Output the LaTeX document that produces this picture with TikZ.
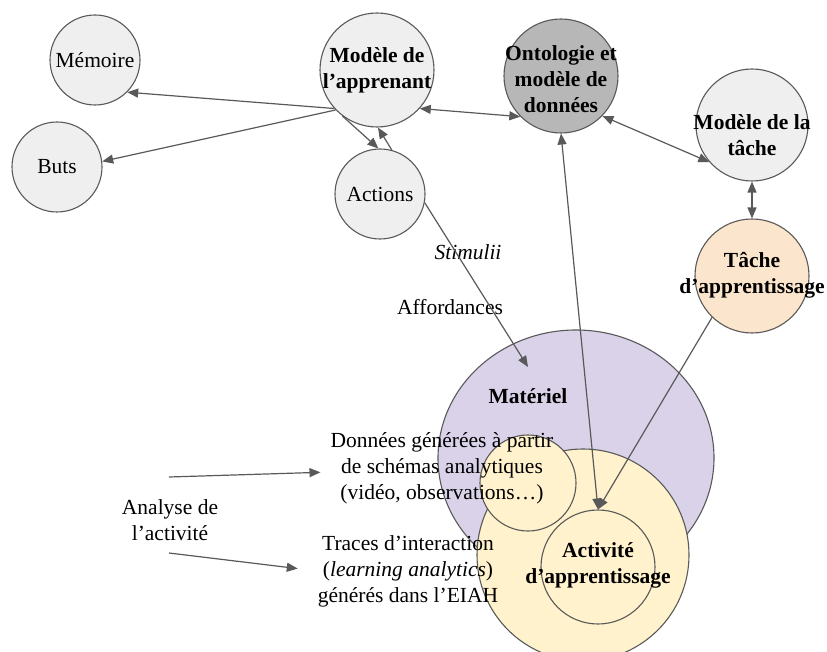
\documentclass[tikz,border=0pt]{standalone}
\usepackage{fontspec}
\setmainfont{Liberation Serif}
\usetikzlibrary{arrows.meta,shapes.geometric}
\definecolor{bord}{HTML}{595959}
\definecolor{gris}{HTML}{EFEFEF}
\definecolor{grisfonce}{HTML}{B7B7B7}
\definecolor{peche}{HTML}{FCE5CD}
\definecolor{lavande}{HTML}{D9D2E9}
\definecolor{jaune}{HTML}{FFF2CC}
\tikzset{
  bulle/.style={circle,draw=bord,line width=1.1pt,fill=gris,minimum size=#1,inner sep=0pt},
  txt/.style={align=center,inner sep=0pt,font=\fontsize{21.5}{26}\selectfont},
  gras/.style={txt,font=\fontsize{21.5}{26}\selectfont\bfseries},
  fleche/.style={draw=bord,line width=1.2pt,-{Triangle[length=11pt,width=9pt]}},
  dfleche/.style={draw=bord,line width=1.2pt,{Triangle[length=11pt,width=9pt]}-{Triangle[length=11pt,width=9pt]}}
}
\begin{document}
\begin{tikzpicture}[x=1pt,y=-1pt]
    \useasboundingbox (0,0) rectangle (827,652);
    \clip (0,0) rectangle (827,652);
    %% materiel et activite
    \node[ellipse,draw=bord,line width=1.1pt,fill=lavande,minimum width=276,minimum height=256,inner sep=0pt] (mat) at (576,458) {};
    \node[bulle=212,fill=jaune] (jau) at (583,555) {};
    \node[bulle=96,fill=jaune] (don) at (528,483) {};
    \node[bulle=114,fill=jaune] (actv) at (598,567) {};
    %% bulles du haut
    \node[bulle=90] (mem) at (95,60) {};
    \node[bulle=90] (buts) at (57,167) {};
    \node[bulle=114] (app) at (377,70) {};
    \node[bulle=90] (act) at (380,194) {};
    \node[bulle=114,fill=grisfonce] (ont) at (561,76) {};
    \node[bulle=112] (mtache) at (752,125) {};
    \node[bulle=114,fill=peche] (tache) at (752,276) {};
    %% textes
    \node[txt] (memT) at (95,60) {Mémoire};
    \node[txt] (butsT) at (57,167) {Buts};
    \node[gras] (appT) at (377,70) {Modèle de\\l’apprenant};
    \node[txt] (actT) at (380,194) {Actions};
    \node[gras] (ontT) at (561,79) {Ontologie et\\modèle de\\données};
    \node[gras] (mtacheT) at (752,135) {Modèle de la\\tâche};
    \node[gras] (tacheT) at (752,275) {Tâche\\d’apprentissage};
    \node[gras] (actvT) at (598,565) {Activité\\d’apprentissage};
    \node[gras] (matT) at (528,396) {Matériel};
    \node[txt] (donT) at (442,468) {Données générées à partir\\de schémas analytiques\\(vidéo, observations…)};
    \node[txt] (traT) at (408,571) {Traces d’interaction\\(\textit{learning analytics})\\générés dans l’EIAH};
    \node[txt] (anaT) at (170,520) {Analyse de\\l’activité};
    \node[txt] (stimT) at (468,252) {\textit{Stimulii}};
    \node[txt] (affT) at (450,307) {Affordances};
    %% fleches
    \coordinate (stim) at (528,367);
    \coordinate (a1) at (169,477);
    \coordinate (a2) at (169,553);
    \draw[fleche] (app.222) -- (mem.315);
    \draw[fleche] (app.224) -- (buts.7);
    \draw[fleche] (app.233) -- (act.92);
    \draw[fleche] (act.75) -- (app.271);
    \draw[dfleche] (app.318) -- (ont.225);
    \draw[dfleche] (ont.316) -- (mtache.221);
    \draw[dfleche] (mtache.south) -- (tache.north);
    \draw[dfleche] (ont.south) -- (actv.north);
    \draw[fleche] (tache.226) -- (actv.north);
    \draw[fleche] (act.349) -- (stim);
    \draw[fleche,shorten >=10pt] (a1) -- ([yshift=-4pt]donT.west);
    \draw[fleche,shorten >=20pt] (a2) -- (traT.west);
\end{tikzpicture}
\end{document}
